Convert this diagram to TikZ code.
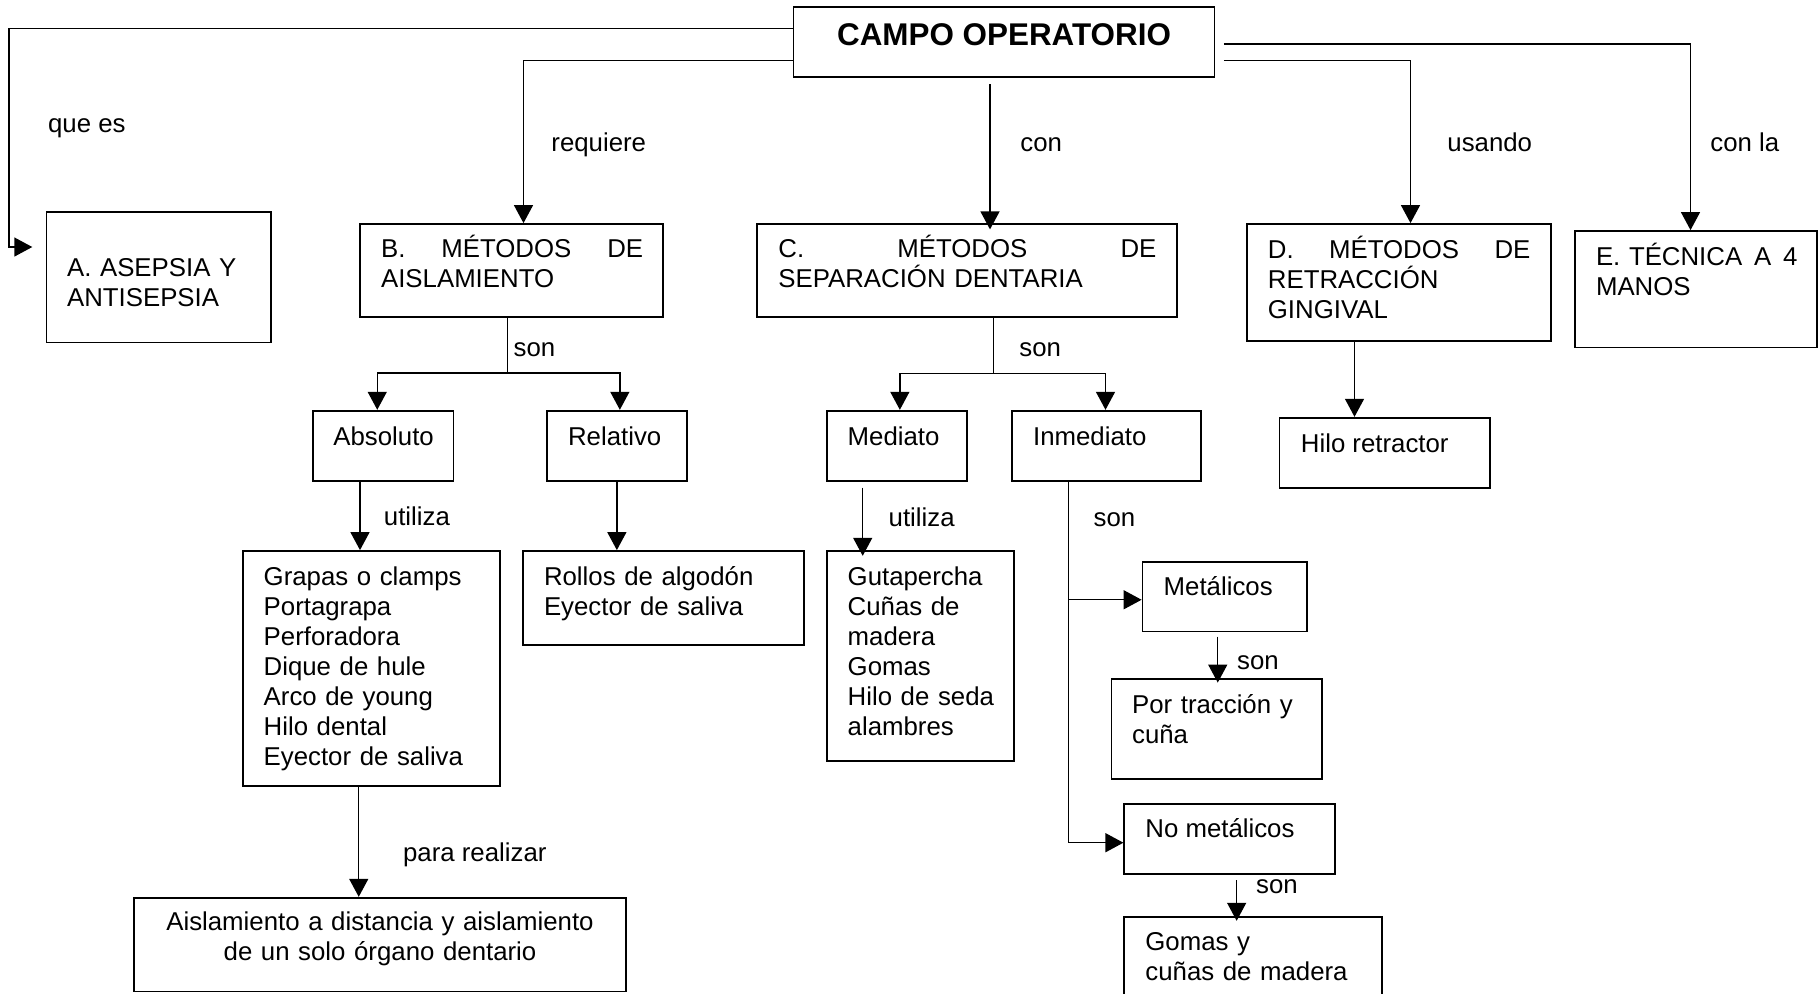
\documentclass[tikz,border=0pt]{standalone}
\usepackage{fontspec}
\setmainfont{Liberation Sans}
\usetikzlibrary{arrows.meta,fit}
\tikzset{
  blockbox/.style={draw=black,line width=0.9pt,inner sep=0pt},
  blocktext/.style={inner sep=0pt,anchor=base west,align=left,
                    font=\fontsize{12.9}{15}\selectfont},
  linkword/.style={inner sep=0pt,anchor=base west,
                   font=\fontsize{12.9}{15}\selectfont},
  linkarr/.style={-{Triangle[length=9pt,width=9.5pt]},line width=0.7pt,
                  draw=black}
}
% a title line spread over the full width of its box
\newcommand{\spread}[4]{\hbox to #1{#2\hfill #3\hfill #4}}

\begin{document}
\begin{tikzpicture}[x=0.5pt,y=-0.5pt]
  \useasboundingbox (0,0) rectangle (1818,993);
  % boxes
  \node[blockbox,fit={(793.5,7) (1214.5,77)}] (campo) {};
  \node[blockbox,fit={(46.5,212.3) (271,342.5)}] (asepsia) {};
  \node[blockbox,fit={(360,224) (663,317)}] (aislam) {};
  \node[blockbox,fit={(757,224) (1177,317)}] (separ) {};
  \node[blockbox,fit={(1247,224) (1551,341)}] (retrac) {};
  \node[blockbox,fit={(1575,231) (1817,347.5)}] (tecnica) {};
  \node[blockbox,fit={(313,410.7) (453.5,481)}] (absol) {};
  \node[blockbox,fit={(546.7,410.7) (687,481)}] (relat) {};
  \node[blockbox,fit={(826.7,410.7) (967,481)}] (mediato) {};
  \node[blockbox,fit={(1012.3,410.7) (1200.7,481)}] (inmed) {};
  \node[blockbox,fit={(1279.5,417.7) (1490,488)}] (hilo) {};
  \node[blockbox,fit={(242.7,551) (500,786)}] (grapas) {};
  \node[blockbox,fit={(523,551) (804,645)}] (rollos) {};
  \node[blockbox,fit={(826.7,551) (1014,761)}] (guta) {};
  \node[blockbox,fit={(1142.5,562) (1307,631.5)}] (metal) {};
  \node[blockbox,fit={(1111.5,679.3) (1322,778.7)}] (traccion) {};
  \node[blockbox,fit={(1124.3,804.3) (1335,874.3)}] (nometal) {};
  \node[blockbox,fit={(1124.3,916.7) (1381.7,1010)}] (gomas) {};
  \node[blockbox,fit={(134,897.7) (626,991.5)}] (aisdist) {};

  % box texts
  \node[blocktext,anchor=base,font=\fontsize{15.7}{18}\selectfont\bfseries]
    (campotx) at (1004,45.7) {CAMPO OPERATORIO};
  \node[blocktext,text width=90pt] (asepsiatx) at (66.7,276)
    {A. ASEPSIA Y\\ANTISEPSIA};
  \node[blocktext,text width=131pt] (aislamtx) at (380.7,257.3)
    {\spread{131pt}{B.}{MÉTODOS}{DE}\\AISLAMIENTO};
  \node[blocktext,text width=189pt] (separtx) at (778,257.3)
    {\spread{189pt}{C.}{MÉTODOS}{DE}\\SEPARACIÓN DENTARIA};
  \node[blocktext,text width=131.25pt] (retractx) at (1267.5,258.3)
    {\spread{131.25pt}{D.}{MÉTODOS}{DE}\\RETRACCIÓN\\GINGIVAL};
  \node[blocktext,text width=100.7pt] (tecnicatx) at (1595.6,265)
    {\spread{100.7pt}{E. TÉCNICA}{A}{4}\\MANOS};
  \node[blocktext] (absoltx) at (333,445) {Absoluto};
  \node[blocktext] (relattx) at (567.7,445) {Relativo};
  \node[blocktext] (mediatotx) at (847.3,445) {Mediato};
  \node[blocktext] (inmedtx) at (1032.7,445) {Inmediato};
  \node[blocktext] (hilotx) at (1300.5,452.3) {Hilo retractor};
  \node[blocktext,text width=115pt] (grapastx) at (263.3,585)
    {Grapas o clamps\\Portagrapa\\Perforadora\\Dique de hule\\Arco de young\\Hilo dental\\Eyector de saliva};
  \node[blocktext,text width=125pt] (rollostx) at (543.6,585)
    {Rollos de algodón\\Eyector de saliva};
  \node[blocktext,text width=80pt] (gutatx) at (847.3,585)
    {Gutapercha\\Cuñas de\\madera\\Gomas\\Hilo de seda\\alambres};
  \node[blocktext] (metaltx) at (1163.3,595) {Metálicos};
  \node[blocktext,text width=90pt] (tracciontx) at (1131.7,713.3)
    {Por tracción y\\cuña};
  \node[blocktext] (nometaltx) at (1145,837.7) {No metálicos};
  \node[blocktext,text width=110pt] (gomastx) at (1145,950)
    {Gomas y\\cuñas de madera};
  \node[blocktext,text width=240pt,align=center,anchor=base] (aisdisttx)
    at (380,930) {Aislamiento a distancia y aislamiento\\de un solo órgano dentario};

  % linking words
  \node[linkword] (quees) at (47.7,132) {que es};
  \node[linkword] (requiere) at (551,151) {requiere};
  \node[linkword] (con) at (1020,151) {con};
  \node[linkword] (usando) at (1447,151) {usando};
  \node[linkword] (conla) at (1710,151) {con la};
  \node[linkword] (sonb) at (513.3,356.5) {son};
  \node[linkword] (sonc) at (1019,356.5) {son};
  \node[linkword] (utilizaa) at (383.5,525.5) {utiliza};
  \node[linkword] (utilizam) at (888.3,526) {utiliza};
  \node[linkword] (soni) at (1093.3,526) {son};
  \node[linkword] (sonm) at (1236.7,669.3) {son};
  \node[linkword] (sonn) at (1255.7,893.3) {son};
  \node[linkword] (pararealizar) at (402.7,861) {para realizar};

  % connectors
  \coordinate (asepsiain) at (32.3,247);
  \draw[linkarr] ([shift={(0,-13.7)}]campo.west) -| ([shift={(-23.3,0)}]asepsiain) -- (asepsiain);
  \draw[linkarr] ([shift={(0,18.7)}]campo.west) -| ([shift={(12,0)}]aislam.north);
  \draw[linkarr] ([shift={(-14,6.3)}]campo.south) -- ([shift={(-14,6.3)}]campo.south |- separ.north);
  \draw[linkarr] ([shift={(8.5,18.7)}]campo.east) -| ([shift={(11.5,0)}]retrac.north);
  \draw[linkarr] ([shift={(8.5,2)}]campo.east) -| ([shift={(-5.5,0)}]tecnica.north);

  \draw[linkarr] ([shift={(-4,0)}]aislam.south) |- ([shift={(-6,-36.7)}]absol.north) -- ([shift={(-6,0)}]absol.north);
  \draw[linkarr] ([shift={(-4,0)}]aislam.south) |- ([shift={(3,-36.7)}]relat.north) -- ([shift={(3,0)}]relat.north);
  \draw[linkarr] ([shift={(26.7,0)}]separ.south) |- ([shift={(3,-36.2)}]mediato.north) -- ([shift={(3,0)}]mediato.north);
  \draw[linkarr] ([shift={(26.7,0)}]separ.south) |- ([shift={(-1,-36.2)}]inmed.north) -- ([shift={(-1,0)}]inmed.north);

  \draw[linkarr] ([shift={(-23.25,0)}]absol.south) -- ([shift={(-23.25,0)}]absol.south |- grapas.north);
  \draw[linkarr] (relat.south) -- (relat.south |- rollos.north);
  \draw[linkarr] ([shift={(-34.15,5.7)}]mediato.south) -- ([shift={(-34.15,5.7)}]mediato.south |- guta.north);
  \draw[linkarr] ([shift={(-38,0)}]inmed.south) |- ([shift={(0,3)}]metal.west);
  \draw[linkarr] ([shift={(-38,0)}]inmed.south) |- ([shift={(0,3.4)}]nometal.west);
  \draw[linkarr] ([shift={(-7,4.2)}]metal.south) -- ([shift={(-7,4.2)}]metal.south |- traccion.north);
  \draw[linkarr] ([shift={(7,5)}]nometal.south) -- ([shift={(7,5)}]nometal.south |- gomas.north);
  \draw[linkarr] ([shift={(-12.6,0)}]grapas.south) -- ([shift={(-12.6,0)}]grapas.south |- aisdist.north);
  \draw[linkarr] ([shift={(-44.5,0)}]retrac.south) -- ([shift={(-44.5,0)}]retrac.south |- hilo.north);
\end{tikzpicture}
\end{document}
